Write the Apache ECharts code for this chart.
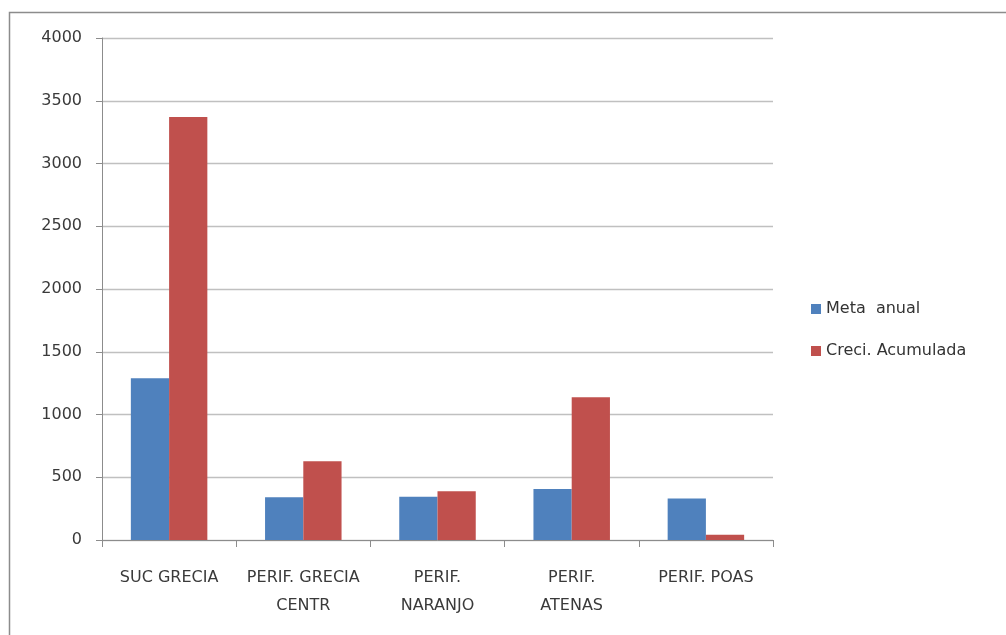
<!DOCTYPE html>
<html>
<head>
<meta charset="utf-8">
<script src="https://cdn.jsdelivr.net/npm/echarts@6/dist/echarts.min.js"></script>
<style>
html,body{margin:0;padding:0;background:#fff;}
#chart{width:1006px;height:635px;}
</style>
</head>
<body>
<div id="chart"></div>
<script>
var categories = ['SUC GRECIA', 'PERIF. GRECIA CENTR', 'PERIF. NARANJO', 'PERIF. ATENAS', 'PERIF. POAS'];
var tickLabels = ['SUC GRECIA', 'PERIF. GRECIA\nCENTR', 'PERIF.\nNARANJO', 'PERIF.\nATENAS', 'PERIF. POAS'];
var seriesNames = ['Meta  anual', 'Creci. Acumulada'];
var metaAnual = [1288, 340, 345, 406, 330];
var creciAcumulada = [3370, 627, 388, 1137, 42];

var font = '"DejaVu Sans", sans-serif';
var chart = echarts.init(document.getElementById('chart'));
chart.setOption({
  animation: false,
  backgroundColor: '#fff',
  graphic: [{
    type: 'rect', silent: true,
    shape: {x: 9.5, y: 12.5, width: 1200, height: 800},
    style: {fill: 'none', stroke: '#8c8c8c', lineWidth: 1.5}
  }],
  grid: {left: 102, right: 233, top: 38, bottom: 95, containLabel: false},
  legend: {
    orient: 'vertical',
    left: 806, top: 296,
    itemWidth: 10, itemHeight: 10, itemGap: 26,
    icon: 'rect',
    textStyle: {fontFamily: font, fontSize: 16, color: '#333'},
    data: seriesNames
  },
  xAxis: {
    type: 'category',
    data: categories,
    axisLine: {lineStyle: {color: '#8c8c8c'}},
    axisTick: {show: true, length: 7, lineStyle: {color: '#8c8c8c'}},
    axisLabel: {
      interval: 0, margin: 24, fontFamily: font, fontSize: 16, color: '#3a3a3a', lineHeight: 28,
      formatter: function (v, i) { return tickLabels[i]; }
    }
  },
  yAxis: {
    type: 'value', min: 0, max: 4000, interval: 500,
    axisLine: {show: true, lineStyle: {color: '#8c8c8c'}},
    axisTick: {show: true, length: 6, lineStyle: {color: '#8c8c8c'}},
    splitLine: {lineStyle: {color: '#c0c0c0', width: 1.3}},
    axisLabel: {margin: 20, fontFamily: font, fontSize: 16, color: '#3a3a3a',
      formatter: function (v) { return String(v); }}
  },
  series: [
    {name: seriesNames[0], type: 'bar', data: metaAnual, barGap: '0%', barCategoryGap: '43%',
     itemStyle: {color: '#4f81bd'}},
    {name: seriesNames[1], type: 'bar', data: creciAcumulada, barGap: '0%', barCategoryGap: '43%',
     itemStyle: {color: '#c0504d'}}
  ]
});
</script>
</body>
</html>
